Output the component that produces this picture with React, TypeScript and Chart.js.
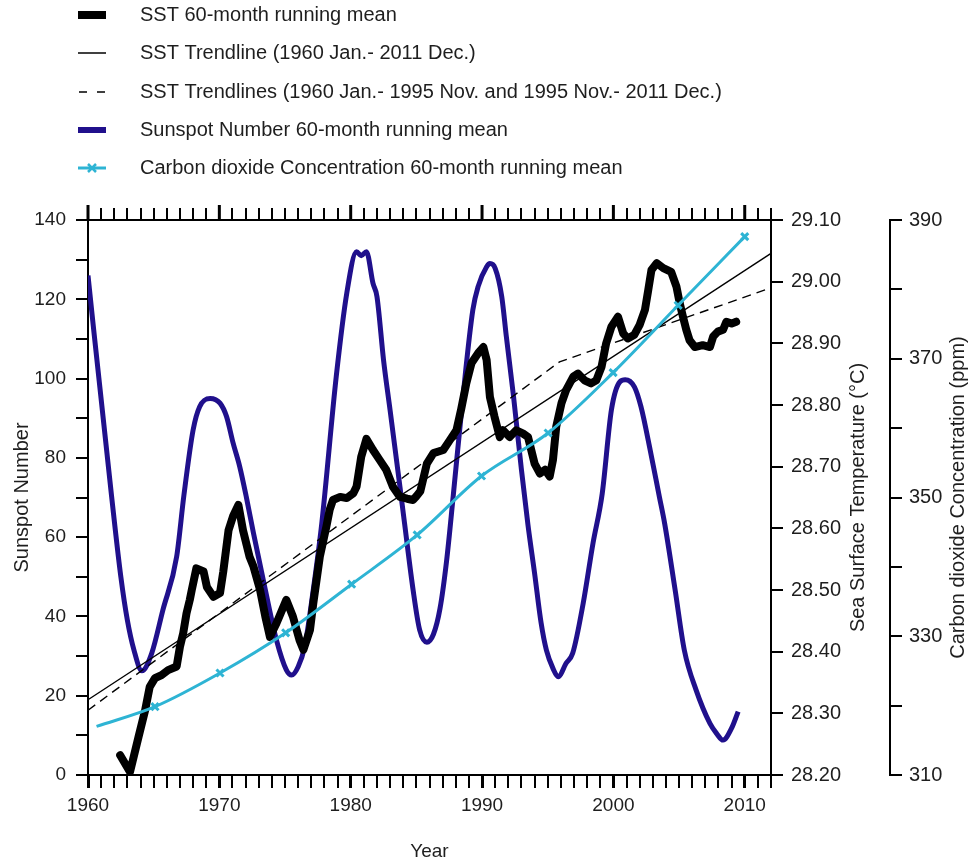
import React, { useEffect, useRef } from 'react';
import { Chart, registerables } from 'chart.js';

Chart.register(...registerables);

const FONT = '"Liberation Sans", Arial, Helvetica, sans-serif';
const TEXT = '#1e1e1e';
const NAVY = '#20108c';
const CYAN = '#2eb4d4';

// ---- Sunspot number 60-month running mean (left axis) ----
const sunspotYears = [
  1960.0, 1960.3, 1961.8, 1962.5, 1963.0, 1963.5, 1964.1, 1964.85, 1965.7, 1966.75, 1967.3,
  1968.0, 1968.5, 1969.3, 1970.05, 1970.55, 1971.05, 1971.55, 1972.05, 1972.6, 1973.5,
  1974.35, 1975.1, 1975.5, 1976.0, 1976.5, 1977.15, 1977.8, 1978.9, 1979.7, 1980.45,
  1980.8, 1981.2, 1981.7, 1982.0, 1982.5, 1983.0, 1983.75, 1984.1, 1984.75, 1985.25,
  1985.8, 1986.3, 1986.8, 1987.3, 1987.8, 1988.55, 1989.3, 1989.7, 1990.35, 1990.6,
  1991.0, 1991.5, 1991.85, 1992.4, 1993.0, 1993.5, 1994.0, 1994.5, 1994.9, 1995.4,
  1995.8, 1996.4, 1996.9, 1997.7, 1998.45, 1999.15, 1999.85, 2000.5, 2000.9, 2001.6,
  2002.1, 2002.8, 2003.5, 2003.9, 2004.7, 2005.4, 2006.3, 2007.35, 2007.85, 2008.35,
  2009.0, 2009.5,
];
const sunspotValues = [
  126, 116.5, 70.2, 50, 39, 31.5, 26.3, 30.7, 41.6, 55.1, 70.5,
  87, 92.9, 95, 93.8, 90.4, 83.7, 77.8, 70.2, 61, 46.7,
  34, 26.5, 25.2, 27.3, 32.4, 46.7, 63.5, 100.5, 121.5, 132,
  131, 132, 124, 120.7, 104.7, 92, 72.7, 63.5, 46.7, 36.6,
  33.5, 35.5, 42, 54, 70.2, 95.5, 117.3, 123.2, 128.2, 129,
  127.8, 120.7, 110.6, 95.4, 77, 63, 50.9, 38.3, 31.5, 26.9,
  24.8, 28.2, 30.7, 43.3, 58.5, 71, 92.1, 99.2, 99.7, 97.9,
  92.9, 82, 70.2, 63.5, 46.7, 31.5, 21.4, 13, 10.5, 8.8,
  11.8, 16,
];

// ---- SST 60-month running mean (°C, right axis) ----
const sstYears = [
  1962.45, 1963.2, 1963.85, 1964.35, 1964.7, 1965.1, 1965.6, 1966.1, 1966.75, 1967.0,
  1967.25, 1967.5, 1967.75, 1967.9, 1968.25, 1968.8, 1969.05, 1969.55, 1970.05, 1970.3,
  1970.7, 1971.05, 1971.45, 1971.8, 1972.3, 1972.6, 1973.1, 1973.5, 1973.85, 1974.35,
  1975.1, 1975.6, 1976.1, 1976.4, 1976.9, 1977.15, 1977.65, 1978.15, 1978.4, 1978.65,
  1979.2, 1979.7, 1980.2, 1980.45, 1980.8, 1981.2, 1981.7, 1982.2, 1982.7, 1983.2,
  1983.75, 1984.3, 1984.75, 1985.0, 1985.3, 1985.8, 1986.3, 1987.05, 1987.55, 1988.05,
  1988.4, 1988.8, 1989.2, 1989.7, 1990.1, 1990.35, 1990.6, 1990.95, 1991.35, 1991.6,
  1992.1, 1992.6, 1993.1, 1993.5, 1994.0, 1994.4, 1994.8, 1995.15, 1995.4, 1995.65,
  1996.05, 1996.4, 1996.95, 1997.3, 1997.8, 1998.3, 1998.7, 1999.1, 1999.45, 1999.85,
  2000.35, 2000.75, 2001.1, 2001.6, 2002.0, 2002.4, 2002.65, 2002.9, 2003.3, 2003.8,
  2004.4, 2004.8, 2005.05, 2005.3, 2005.55, 2005.8, 2006.2, 2006.8, 2007.35, 2007.6,
  2007.95, 2008.35, 2008.6, 2009.0, 2009.35,
];
const sstValues = [
  28.232, 28.205, 28.262, 28.305, 28.343, 28.357, 28.362, 28.37, 28.376, 28.408,
  28.43, 28.462, 28.484, 28.5, 28.535, 28.53, 28.505, 28.489, 28.495, 28.53,
  28.597, 28.62, 28.638, 28.597, 28.554, 28.538, 28.5, 28.457, 28.424, 28.446,
  28.484, 28.457, 28.419, 28.403, 28.435, 28.478, 28.554, 28.603, 28.63, 28.646,
  28.651, 28.649, 28.657, 28.668, 28.716, 28.745, 28.727, 28.711, 28.695, 28.668,
  28.651, 28.648, 28.646, 28.652, 28.66, 28.705, 28.722, 28.727, 28.743, 28.759,
  28.792, 28.835, 28.868, 28.884, 28.894, 28.873, 28.813, 28.781, 28.748, 28.759,
  28.748, 28.759, 28.754, 28.748, 28.705, 28.689, 28.695, 28.684, 28.711, 28.765,
  28.803, 28.824, 28.846, 28.851, 28.84, 28.835, 28.84, 28.862, 28.9, 28.927,
  28.943, 28.916, 28.908, 28.914, 28.93, 28.954, 28.986, 29.019, 29.03, 29.022,
  29.016, 28.992, 28.965, 28.943, 28.922, 28.905, 28.894, 28.897, 28.894, 28.911,
  28.919, 28.922, 28.935, 28.932, 28.935,
];

// ---- SST trendlines (endpoints) ----
const trendYears = [1960, 2012];
const trendValues = [28.322, 29.046];
const splitTrendYears = [1960, 1995.9, 2012];
const splitTrendValues = [28.305, 28.87, 28.99];

// ---- CO2 concentration 60-month running mean (ppm, far right axis) ----
const co2Years = [1960.65, 1965.1, 1970.05, 1975.05, 1980.07, 1985.06, 1989.96, 1995.03, 1999.98, 2004.93, 2010.0];
const co2Values = [317.0, 319.85, 324.7, 330.5, 337.5, 344.6, 353.1, 359.3, 368.0, 377.7, 387.6];
const co2Markers = [false, true, true, true, true, true, true, true, true, true, true];

// ---- axes ----
const yearMin = 1960;
const yearMax = 2012;
const sunspotMin = 0;
const sunspotMax = 140;
const sstMin = 28.2;
const sstMax = 29.1;
const co2Min = 310;
const co2Max = 390;

const legendLabels = [
  'SST 60-month running mean',
  'SST Trendline (1960 Jan.- 2011 Dec.)',
  'SST Trendlines (1960 Jan.- 1995 Nov. and 1995 Nov.- 2011 Dec.)',
  'Sunspot Number 60-month running mean',
  'Carbon dioxide Concentration 60-month running mean',
];
const sstTitle = 'Sea Surface Temperature (°C)';
const co2Title = 'Carbon dioxide Concentration (ppm)';

const pts = (xs: number[], ys: number[]) => xs.map((x, i) => ({ x, y: ys[i] }));

const extrasPlugin = {
  id: 'extras',
  afterDraw(chart: any) {
    const { ctx, chartArea, scales } = chart;
    ctx.save();
    // extended right spine
    ctx.strokeStyle = '#000';
    ctx.lineWidth = 2;
    ctx.beginPath();
    ctx.moveTo(chartArea.right, chartArea.top - 12);
    ctx.lineTo(chartArea.right, chartArea.bottom + 13);
    ctx.stroke();
    // longer decade ticks on top axis
    const xs = scales.x;
    ctx.lineWidth = 3;
    for (let yr = yearMin; yr <= yearMax; yr += 10) {
      const px = xs.getPixelForValue(yr);
      ctx.beginPath();
      ctx.moveTo(px, chartArea.top);
      ctx.lineTo(px, chartArea.top - 15);
      ctx.stroke();
    }
    // right axis titles, reading bottom to top
    const cy = (chartArea.top + chartArea.bottom) / 2;
    ctx.fillStyle = TEXT;
    ctx.font = `20px ${FONT}`;
    ctx.textAlign = 'center';
    ctx.textBaseline = 'middle';
    const drawV = (text: string, x: number) => {
      ctx.save();
      ctx.translate(x, cy);
      ctx.rotate(-Math.PI / 2);
      ctx.fillText(text, 0, 0);
      ctx.restore();
    };
    drawV(sstTitle, scales.ySST.right - 32);
    drawV(co2Title, scales.yCO2.right - 15);

    // legend
    const rowY = [15, 53, 92, 130, 168];
    const sx0 = 78;
    const sx1 = 106;
    const tx = 140;
    ctx.textAlign = 'left';
    ctx.font = `20px ${FONT}`;
    legendLabels.forEach((label, i) => {
      const y = rowY[i];
      ctx.fillStyle = TEXT;
      ctx.fillText(label, tx, y);
      ctx.setLineDash([]);
      if (i === 0) {
        ctx.fillStyle = '#000';
        ctx.fillRect(sx0, y - 4, sx1 - sx0, 8);
      } else if (i === 1) {
        ctx.strokeStyle = '#000';
        ctx.lineWidth = 1.5;
        ctx.beginPath();
        ctx.moveTo(sx0, y);
        ctx.lineTo(sx1, y);
        ctx.stroke();
      } else if (i === 2) {
        ctx.strokeStyle = '#000';
        ctx.lineWidth = 1.5;
        ctx.beginPath();
        ctx.moveTo(sx0 + 1, y);
        ctx.lineTo(sx0 + 9, y);
        ctx.moveTo(sx1 - 9, y);
        ctx.lineTo(sx1 - 1, y);
        ctx.stroke();
      } else if (i === 3) {
        ctx.fillStyle = NAVY;
        ctx.fillRect(sx0, y - 3, sx1 - sx0, 6);
      } else {
        ctx.strokeStyle = CYAN;
        ctx.lineWidth = 3;
        ctx.beginPath();
        ctx.moveTo(sx0, y);
        ctx.lineTo(sx1, y);
        ctx.stroke();
        const cx = (sx0 + sx1) / 2;
        ctx.lineWidth = 2.5;
        ctx.beginPath();
        ctx.moveTo(cx - 4, y - 4);
        ctx.lineTo(cx + 4, y + 4);
        ctx.moveTo(cx - 4, y + 4);
        ctx.lineTo(cx + 4, y - 4);
        ctx.stroke();
      }
    });
    ctx.restore();
  },
};

export default function App() {
  const ref = useRef<HTMLCanvasElement | null>(null);

  useEffect(() => {
    if (!ref.current) return;
    const tickFont = { family: FONT, size: 19 };
    const chart = new Chart(ref.current, {
      type: 'line',
      data: {
        datasets: [
          {
            label: legendLabels[4],
            data: pts(co2Years, co2Values),
            yAxisID: 'yCO2',
            borderColor: CYAN,
            backgroundColor: CYAN,
            borderWidth: 3,
            cubicInterpolationMode: 'monotone',
            pointStyle: 'crossRot',
            pointRadius: co2Markers.map((m) => (m ? 5 : 0)),
            pointBorderWidth: 3,
            pointBorderColor: CYAN,
            order: 0,
          },
          {
            label: legendLabels[1],
            data: pts(trendYears, trendValues),
            yAxisID: 'ySST',
            borderColor: '#000',
            borderWidth: 1.4,
            pointRadius: 0,
            order: 1,
          },
          {
            label: legendLabels[2],
            data: pts(splitTrendYears, splitTrendValues),
            yAxisID: 'ySST',
            borderColor: '#000',
            borderWidth: 1.4,
            borderDash: [9, 6],
            pointRadius: 0,
            order: 1,
          },
          {
            label: legendLabels[0],
            data: pts(sstYears, sstValues),
            yAxisID: 'ySST',
            borderColor: '#000',
            borderWidth: 8,
            borderJoinStyle: 'round',
            borderCapStyle: 'round',
            pointRadius: 0,
            tension: 0,
            order: 2,
          },
          {
            label: legendLabels[3],
            data: pts(sunspotYears, sunspotValues),
            yAxisID: 'y',
            borderColor: NAVY,
            borderWidth: 5,
            borderJoinStyle: 'round',
            cubicInterpolationMode: 'monotone',
            pointRadius: 0,
            order: 3,
          },
        ],
      },
      options: {
        animation: false,
        responsive: false,
        devicePixelRatio: 1,
        layout: { padding: { top: 208, left: 0, right: 0, bottom: 0 } },
        plugins: {
          legend: { display: false },
          tooltip: { enabled: false },
        },
        scales: {
          x: {
            type: 'linear',
            position: 'bottom',
            min: yearMin,
            max: yearMax,
            border: { display: true, color: '#000', width: 2 },
            grid: {
              drawOnChartArea: false,
              drawTicks: true,
              tickLength: 13,
              color: '#000',
              lineWidth: (c: any) => (c.tick && c.tick.value % 10 === 0 ? 3 : 2),
            },
            ticks: {
              stepSize: 1,
              autoSkip: false,
              maxRotation: 0,
              padding: 6,
              color: TEXT,
              font: tickFont,
              callback: (v: any) => (Number(v) % 10 === 0 ? String(v) : ''),
            },
            title: {
              display: true,
              text: 'Year',
              color: TEXT,
              font: { family: FONT, size: 19 },
              padding: { top: 0, bottom: 3 },
            },
            afterFit: (s: any) => {
              s.height = 91;
            },
          },
          xTop: {
            type: 'linear',
            position: 'top',
            min: yearMin,
            max: yearMax,
            border: { display: true, color: '#000', width: 2 },
            grid: {
              drawOnChartArea: false,
              drawTicks: true,
              tickLength: 12,
              color: '#000',
              lineWidth: 2,
            },
            ticks: {
              stepSize: 1,
              autoSkip: false,
              maxRotation: 0,
              padding: 0,
              font: { size: 1 },
              callback: () => '',
            },
            afterFit: (s: any) => {
              s.height = 12;
            },
          },
          y: {
            type: 'linear',
            position: 'left',
            min: sunspotMin,
            max: sunspotMax,
            border: { display: true, color: '#000', width: 2 },
            grid: { drawOnChartArea: false, tickLength: 12, color: '#000', lineWidth: 2 },
            ticks: {
              stepSize: 10,
              padding: 10,
              color: TEXT,
              font: tickFont,
              callback: (v: any) => (Number(v) % 20 === 0 ? String(v) : ''),
            },
            title: {
              display: true,
              text: 'Sunspot Number',
              color: TEXT,
              font: { family: FONT, size: 20 },
              padding: { top: 10, bottom: 0 },
            },
            afterFit: (s: any) => {
              s.width = 88;
            },
          },
          ySST: {
            type: 'linear',
            position: 'right',
            weight: 1,
            min: sstMin,
            max: sstMax,
            border: { display: true, color: '#000', width: 2 },
            grid: { drawOnChartArea: false, tickLength: 12, color: '#000', lineWidth: 2 },
            ticks: {
              stepSize: 0.1,
              padding: 8,
              color: TEXT,
              font: { family: FONT, size: 20 },
              callback: (v: any) => Number(v).toFixed(2),
            },
            afterFit: (s: any) => {
              s.width = 119;
            },
          },
          yCO2: {
            type: 'linear',
            position: 'right',
            weight: 2,
            min: co2Min,
            max: co2Max,
            border: { display: true, color: '#000', width: 2 },
            grid: { drawOnChartArea: false, tickLength: 12, color: '#000', lineWidth: 2 },
            ticks: {
              stepSize: 10,
              padding: 7,
              color: TEXT,
              font: { family: FONT, size: 20 },
              callback: (v: any) => ((Number(v) - co2Min) % 20 === 0 ? String(v) : ''),
            },
            afterFit: (s: any) => {
              s.width = 83;
            },
          },
        },
      } as any,
      plugins: [extrasPlugin],
    });
    return () => chart.destroy();
  }, []);

  return (
    <div style={{ position: 'fixed', left: 0, top: 0, width: 973, height: 866, background: '#fff' }}>
      <canvas ref={ref} width={973} height={866} style={{ display: 'block' }} />
    </div>
  );
}
